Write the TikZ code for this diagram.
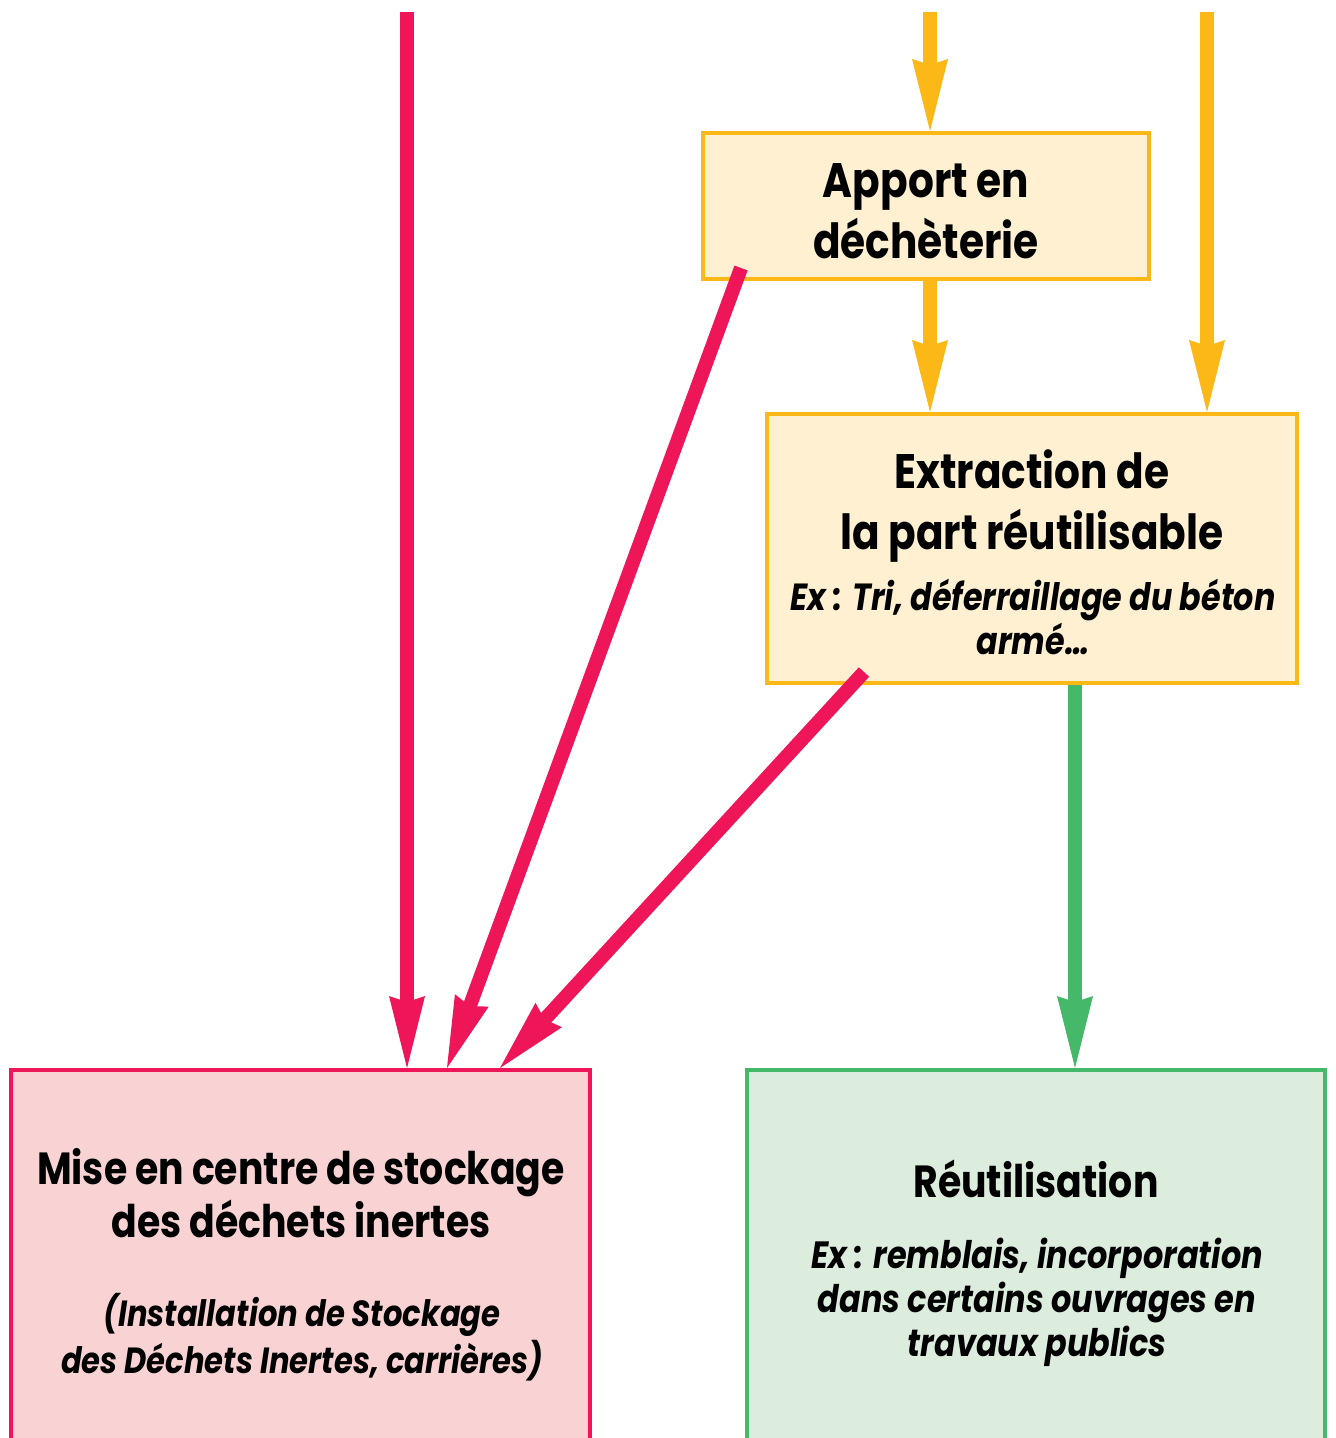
\documentclass[tikz,border=0pt]{standalone}
\usepackage{fontspec}
\setmainfont{Poppins}
\newfontfamily\headfont[FakeStretch=0.84]{Poppins}
\newfontfamily\notefont[FakeStretch=0.84, UprightFont={* Bold Italic}]{Poppins}
\usetikzlibrary{arrows.meta}
\definecolor{cred}{HTML}{EE1558}
\definecolor{cyel}{HTML}{FCB816}
\definecolor{cgrn}{HTML}{46B86A}
\definecolor{fyel}{HTML}{FFF0D2}
\definecolor{fred}{HTML}{F9D3D3}
\definecolor{fgrn}{HTML}{DCEDDE}
\tikzset{
  box/.style={rectangle, line width=2pt, inner sep=0pt},
  ybox/.style={box, draw=cyel, fill=fyel},
  rbox/.style={box, draw=cred, fill=fred},
  gbox/.style={box, draw=cgrn, fill=fgrn},
  flow/.style={line width=7pt, -{Stealth[length=36pt,width=18pt,inset=3pt,line width=0pt]}},
  redflow/.style={flow, draw=cred},
  yelflow/.style={flow, draw=cyel},
  grnflow/.style={flow, draw=cgrn},
  tophead/.style={align=center, font=\headfont\fontsize{24.2}{30.5}\selectfont\bfseries, inner sep=0pt},
  lowhead/.style={align=center, font=\headfont\fontsize{22.5}{26.5}\selectfont\bfseries, inner sep=0pt},
  note/.style={align=center, inner sep=0pt},
}
\begin{document}
\begin{tikzpicture}[x=0.5pt,y=-0.5pt]
\useasboundingbox (0,0) rectangle (1335,1438);
\clip (0,0) rectangle (1335,1438);
% boxes
\node[ybox, minimum width=223pt, minimum height=73pt] (apport) at (926,206) {};
\node[ybox, minimum width=265pt, minimum height=134.5pt] (extr) at (1032,548.5) {};
\node[rbox, minimum width=289.5pt, minimum height=215pt] (mise) at (300.5,1285) {};
\node[gbox, minimum width=289pt, minimum height=215pt] (reut) at (1036,1285) {};
% texts
\node[tophead] (tapport) at (926,211) {Apport en\\déchèterie};
\node[tophead] (textr) at (1032,506) {Extraction de\\la part réutilisable};
\node[note, font=\notefont\fontsize{18.9}{19.2}\selectfont] (nextr) at (1033,617) {Ex : Tri, déferraillage du béton\\armé…};
\node[lowhead] (tmise) at (301,1193) {Mise en centre de stockage\\des déchets inertes};
\node[note, font=\notefont\fontsize{18.2}{23.5}\selectfont] (nmise) at (302,1337) {(Installation de Stockage\\des Déchets Inertes, carrières)};
\node[lowhead] (treut) at (1036,1179) {Réutilisation};
\node[note, font=\notefont\fontsize{19}{22}\selectfont] (nreut) at (1037,1302) {Ex : remblais, incorporation\\dans certains ouvrages en\\travaux publics};
% free ends
\coordinate (r1) at (407,12);
\coordinate (d1) at (741,268);
\coordinate (d2) at (864,672);
\coordinate (y1) at (930,12);
\coordinate (y3) at (1207,12);
\coordinate (g1) at (1075,0);
\coordinate (e2) at (447,0);
\coordinate (e3) at (500,0);
% connectors
\draw[yelflow] (y1) -- (apport.north -| y1);
\draw[yelflow] (apport.south -| y1) -- (extr.north -| y1);
\draw[yelflow] (y3) -- (extr.north -| y3);
\draw[grnflow] (extr.south -| g1) -- (reut.north -| g1);
\draw[redflow] (r1) -- (mise.north -| r1);
\draw[redflow] (d1) -- (mise.north -| e2);
\draw[redflow] (d2) -- (mise.north -| e3);
\end{tikzpicture}
\end{document}
